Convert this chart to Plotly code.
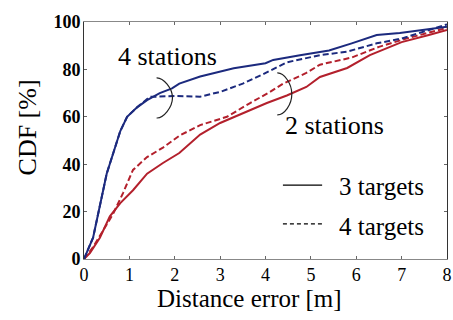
import plotly.graph_objects as go

# 4 stations, 3 targets (blue solid)
b3_x = [0, 0.2, 0.5, 0.8, 0.95, 1.17, 1.39, 1.67, 1.94, 2.1, 2.56, 3.3, 4.0, 4.17, 4.76, 5.4, 5.9, 6.45, 6.96, 7.4, 8.0]
b3_y = [0, 9, 36, 54, 60, 64, 67, 70, 72, 74, 77, 80.5, 82.6, 84, 86, 88, 91, 94.5, 95.4, 96.6, 98]
# 4 stations, 4 targets (blue dashed)
b4_x = [0, 0.2, 0.5, 0.8, 0.95, 1.17, 1.45, 2.0, 2.56, 3.0, 3.5, 3.95, 4.47, 5.2, 5.8, 6.45, 7.0, 7.6, 8.0]
b4_y = [0, 9, 36, 54, 60, 64, 68.4, 68.8, 68.5, 70.5, 74, 78, 83, 86, 87.5, 91, 93, 96.6, 99]
# 2 stations, 3 targets (red solid)
r3_x = [0, 0.13, 0.35, 0.57, 0.8, 1.08, 1.39, 1.74, 2.1, 2.56, 3.0, 3.5, 4.03, 4.47, 4.9, 5.2, 5.8, 6.3, 7.0, 7.6, 8.0]
r3_y = [0, 2.5, 9, 18, 23.6, 29, 36, 40.5, 44.7, 52.5, 57.4, 61.6, 65.8, 69, 72.6, 76.8, 80.6, 86, 91.5, 94.5, 96.6]
# 2 stations, 4 targets (red dashed)
r4_x = [0, 0.2, 0.64, 0.86, 1.08, 1.39, 1.74, 2.1, 2.56, 3.15, 3.66, 4.1, 4.39, 4.9, 5.2, 5.9, 6.5, 7.1, 8.0]
r4_y = [0, 5, 19, 27.8, 37.6, 43, 47, 52, 56.5, 60, 65.8, 70.5, 74, 78.5, 82, 85, 89.5, 93, 97.5]

x_ticks = [0, 1, 2, 3, 4, 5, 6, 7, 8]
y_ticks = [0, 20, 40, 60, 80, 100]

BLUE = "#1c2a7e"
RED = "#b3202c"
FONT = "Liberation Serif"
DASH = "6px,3px"

fig = go.Figure()
for xs, ys, col, dash in [(r3_x, r3_y, RED, "solid"), (r4_x, r4_y, RED, DASH),
                          (b3_x, b3_y, BLUE, "solid"), (b4_x, b4_y, BLUE, DASH)]:
    fig.add_trace(go.Scatter(x=xs, y=ys, mode="lines", showlegend=False,
                             line=dict(color=col, width=2, dash=dash)))

fig.update_layout(
    template="none",
    width=453, height=320,
    margin=dict(l=84, r=6, t=22, b=61),
    paper_bgcolor="white", plot_bgcolor="white",
    font=dict(family=FONT, color="black"),
    xaxis=dict(range=[0, 8], tickvals=x_ticks, ticks="inside", ticklen=3,
               tickcolor="#666", showline=True, linecolor="#888", mirror="ticks",
               showgrid=False, zeroline=False, tickfont=dict(size=18, family=FONT),
               ticklabelstandoff=-1),
    yaxis=dict(range=[0, 100], tickvals=y_ticks, ticks="inside", ticklen=3,
               tickcolor="#666", showline=True, linecolor="#333", mirror="ticks",
               showgrid=False, zeroline=False,
               tickfont=dict(size=18, family=FONT, weight="bold"),
               ticklabelstandoff=-1),
)

# Axis titles
fig.add_annotation(xref="paper", yref="paper", x=(249 - 84) / 363, y=-0.165,
                   xanchor="center", yanchor="middle", text="Distance error [m]",
                   showarrow=False, font=dict(size=25, family=FONT))
fig.add_annotation(xref="paper", yref="paper", x=(27 - 84) / 363, y=0.555,
                   xanchor="center", yanchor="middle", text="CDF [%]", textangle=-90,
                   showarrow=False, font=dict(size=26, family=FONT))

# Group labels and brackets
fig.add_annotation(x=1.85, y=85.5, xref="x", yref="y", text="4 stations", showarrow=False,
                   font=dict(size=26, family=FONT))
fig.add_annotation(x=5.53, y=56.5, xref="x", yref="y", text="2 stations", showarrow=False,
                   font=dict(size=26, family=FONT))
fig.add_shape(type="path", xref="x", yref="y",
              path="M 1.6,76.4 C 1.75,76.5 1.95,72 1.95,68 C 1.95,64 1.75,59.3 1.6,59.5",
              line=dict(color="#222", width=1.2))
fig.add_shape(type="path", xref="x", yref="y",
              path="M 4.26,78.5 C 4.41,78.6 4.58,74 4.58,69.6 C 4.58,65 4.41,60.7 4.26,60.8",
              line=dict(color="#222", width=1.2))

# Legend (drawn)
for yl, yt, dash, label in [(0.312, 0.304, "solid", "3 targets"), (0.148, 0.139, "4px,3px", "4 targets")]:
    fig.add_shape(type="line", xref="paper", yref="paper", x0=0.548, x1=0.656, y0=yl, y1=yl,
                  line=dict(color="black", width=1.2, dash=dash))
    fig.add_annotation(xref="paper", yref="paper", x=0.697, y=yt, xanchor="left", yanchor="middle",
                       text=label, showarrow=False, font=dict(size=25, family=FONT))

fig.write_html("out.html")
